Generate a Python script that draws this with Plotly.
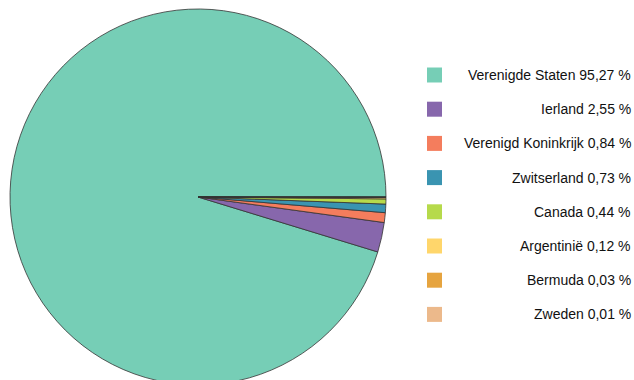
import plotly.graph_objects as go

countries = ["Verenigde Staten", "Ierland", "Verenigd Koninkrijk", "Zwitserland",
             "Canada", "Argentinië", "Bermuda", "Zweden"]
shares = [95.27, 2.55, 0.84, 0.73, 0.44, 0.12, 0.03, 0.01]
colors = ["#76CEB6", "#8767AC", "#F47D5D", "#3A94B1", "#B6DA4B", "#FFD66B",
          "#E6A43F", "#ECB98B"]

W, H = 634, 400
mt, mb = 9, 15
ph = H - mt - mb

# plotly places the first slice's clockwise edge at `rotation` for counterclockwise pies;
# shift so the first slice starts at 3 o'clock and runs counterclockwise
rot = 90 + 360 * (1 - shares[0] / sum(shares))

fig = go.Figure(go.Pie(
    labels=countries, values=shares, sort=False, direction="counterclockwise",
    rotation=rot, textinfo="none", hoverinfo="label+percent",
    marker=dict(colors=colors, line=dict(color="#333333", width=0.8)),
    domain=dict(x=[10 / W, 386 / W], y=[0, 1]), showlegend=False,
))

def py2paper(py):
    return (H - mb - py) / ph

shapes, annots = [], []
for i, (c, v, col) in enumerate(zip(countries, shares, colors)):
    yc = 75 + i * 34.2
    shapes.append(dict(type="rect", xref="paper", yref="paper",
                       x0=427 / W, x1=442 / W, y0=py2paper(yc + 7.5), y1=py2paper(yc - 7.5),
                       fillcolor=col, line=dict(width=0)))
    annots.append(dict(xref="paper", yref="paper", x=633 / W, y=py2paper(yc),
                       xanchor="right", yanchor="middle", showarrow=False,
                       text=f"{c} {v:.2f}".replace(".", ",") + " %",
                       font=dict(family="Liberation Sans, Arial", size=14, color="#111111")))

fig.update_layout(width=W, height=H, margin=dict(l=0, r=0, t=mt, b=mb),
                  paper_bgcolor="white", plot_bgcolor="white",
                  shapes=shapes, annotations=annots)

fig.write_html("out.html", post_script="document.body.style.overflow='hidden';document.documentElement.style.overflow='hidden';")
